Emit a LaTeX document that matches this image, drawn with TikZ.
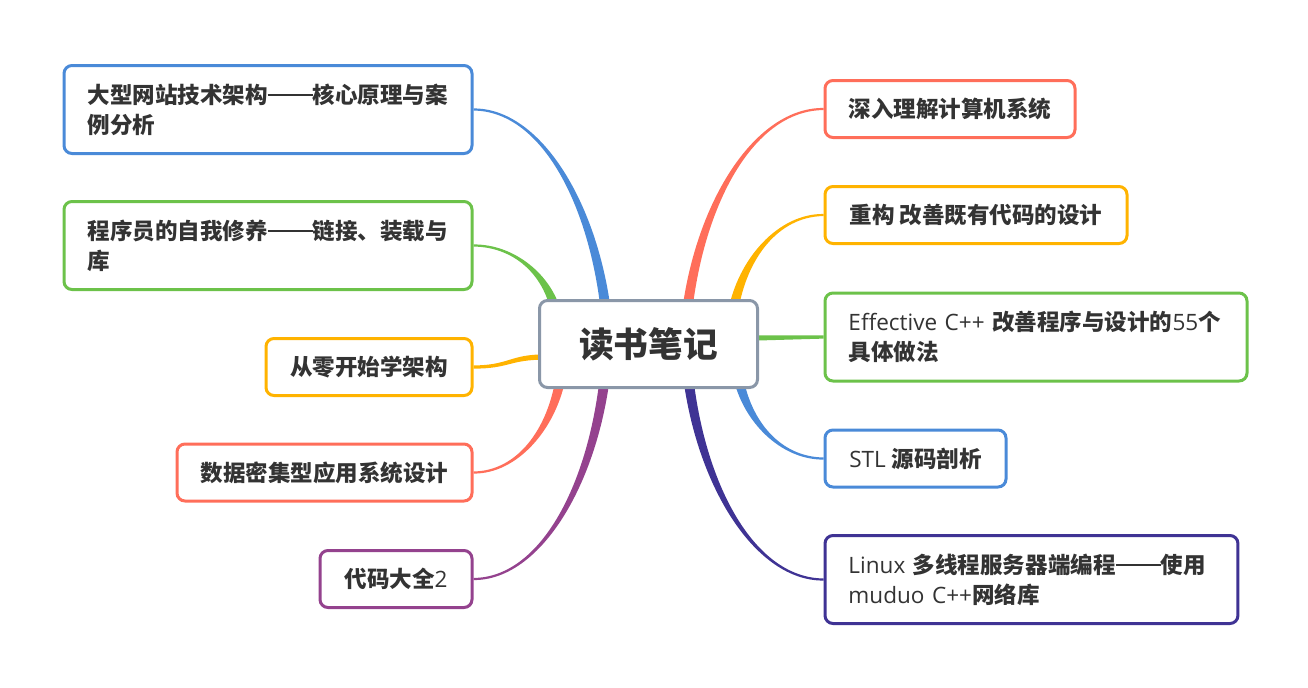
\documentclass[tikz,border=0pt]{standalone}
\usepackage{fontspec}
\setmainfont{Open Sans}
\newfontfamily\cjk{Noto Sans CJK SC}
\newcommand\zh[1]{{\cjk\bfseries #1}}
\newcommand\dd{\rule[0.33em]{2em}{0.09em}}
\usetikzlibrary{calc,backgrounds}
\definecolor{cred}{HTML}{FF6E5A}
\definecolor{corange}{HTML}{FFB300}
\definecolor{cgreen}{HTML}{6CC24A}
\definecolor{cblue}{HTML}{4A8AD8}
\definecolor{cdpurple}{HTML}{3F3394}
\definecolor{cpurple}{HTML}{94428E}
\definecolor{cgray}{HTML}{8A97A8}
\definecolor{ctext}{HTML}{333333}
\tikzset{
  book/.style={draw, line width=2.25pt, rounded corners=6pt, fill=white, text=ctext,
    font=\fontsize{16.9}{22.5}\selectfont, inner xsep=17.6pt, inner ysep=0pt,
    minimum height=42.75pt},
  bookii/.style={book, minimum height=66pt, align=left},
  hub/.style={draw=cgray, line width=2.25pt, rounded corners=6pt, fill=white, text=ctext,
    font=\fontsize{26}{30}\selectfont, minimum width=163.5pt, minimum height=65.25pt}
}
\newcommand\branch[3]{%
  \fill[#1] let \p1=(#2), \p2=(#3), \n1={-sign(\y2-\y1)}, \n2={sign(\x2-\x1)} in
  ({\x1+\n1*3.8pt},\y1) .. controls ({\x1+0.1*(\x2-\x1)+\n1*3.2pt},{\y1+0.55*(\y2-\y1)}) and ({\x2-0.5*(\x2-\x1)},{\y2+\n2*1.1pt}) .. (\x2,{\y2+\n2*0.8pt})
  -- (\x2,{\y2-\n2*0.8pt}) .. controls ({\x2-0.5*(\x2-\x1)},{\y2-\n2*1.1pt}) and ({\x1+0.1*(\x2-\x1)-\n1*3.2pt},{\y1+0.55*(\y2-\y1)}) .. ({\x1-\n1*3.8pt},\y1) -- cycle;}
\newcommand\hbranch[3]{%
  \fill[#1] let \p1=(#2), \p2=(#3) in
  (\x1,{\y1+2pt}) .. controls ({0.5*(\x1+\x2)},{\y1+1.9pt}) and ({0.5*(\x1+\x2)},{\y2+1.3pt}) .. (\x2,{\y2+1.2pt})
  -- (\x2,{\y2-1.2pt}) .. controls ({0.5*(\x1+\x2)},{\y2-1.3pt}) and ({0.5*(\x1+\x2)},{\y1-1.9pt}) .. (\x1,{\y1-2pt}) -- cycle;}
\begin{document}
\begin{tikzpicture}[x=0.75pt,y=-0.75pt]
\useasboundingbox (0,0) rectangle (1308,687);
% hub
\node[hub] (hub) at (648.5,344) {\zh{读书笔记}};
% left books
\node[bookii, draw=cblue, anchor=east, text width=270.8pt] (l1) at (473.5,109.5)
  {\zh{大型网站技术架构\dd 核心原理与案}\\\zh{例分析}};
\node[bookii, draw=cgreen, anchor=east, text width=270.8pt] (l2) at (473.5,245.5)
  {\zh{程序员的自我修养\dd 链接、装载与}\\\zh{库}};
\node[book, draw=corange, anchor=east, minimum width=154.5pt] (l3) at (473.5,367) {\zh{从零开始学架构}};
\node[book, draw=cred, anchor=east, minimum width=221.25pt] (l4) at (473.5,472.5) {\zh{数据密集型应用系统设计}};
\node[book, draw=cpurple, anchor=east, minimum width=114pt] (l5) at (473.5,579) {\zh{代码大全}2};
% right books
\node[book, draw=cred, anchor=west, minimum width=187.5pt] (r1) at (823.5,109) {\zh{深入理解计算机系统}};
\node[book, draw=corange, anchor=west, minimum width=226.5pt] (r2) at (823.5,215) {\zh{重构 改善既有代码的设计}};
\node[bookii, draw=cgreen, anchor=west, text width=281.3pt] (r3) at (823.5,337)
  {Effective C++ \zh{改善程序与设计的}55\zh{个}\\\zh{具体做法}};
\node[book, draw=cblue, anchor=west, minimum width=135.75pt] (r4) at (823.5,458.5) {STL \zh{源码剖析}};
\node[bookii, draw=cdpurple, anchor=west, text width=274.5pt] (r5) at (823.5,579.5)
  {Linux \zh{多线程服务器端编程\dd 使用}\\muduo C++\zh{网络库}};
% start points of the branches, hidden under the hub
\coordinate (sL1) at (606,312);
\coordinate (sL2) at (556,312);
\coordinate (sL3) at (545,357);
\coordinate (sL4) at (561,376);
\coordinate (sL5) at (605,376);
\coordinate (sR1) at (687,312);
\coordinate (sR2) at (733,312);
\coordinate (sR3) at (752,338);
\coordinate (sR4) at (738,376);
\coordinate (sR5) at (688,376);
\begin{pgfonlayer}{background}
\branch{cblue}{sL1}{l1.east}
\branch{cgreen}{sL2}{l2.east}
\hbranch{corange}{sL3}{l3.east}
\branch{cred}{sL4}{l4.east}
\branch{cpurple}{sL5}{l5.east}
\branch{cred}{sR1}{r1.west}
\branch{corange}{sR2}{r2.west}
\hbranch{cgreen}{sR3}{r3.west}
\branch{cblue}{sR4}{r4.west}
\branch{cdpurple}{sR5}{r5.west}
\end{pgfonlayer}
\end{tikzpicture}
\end{document}
